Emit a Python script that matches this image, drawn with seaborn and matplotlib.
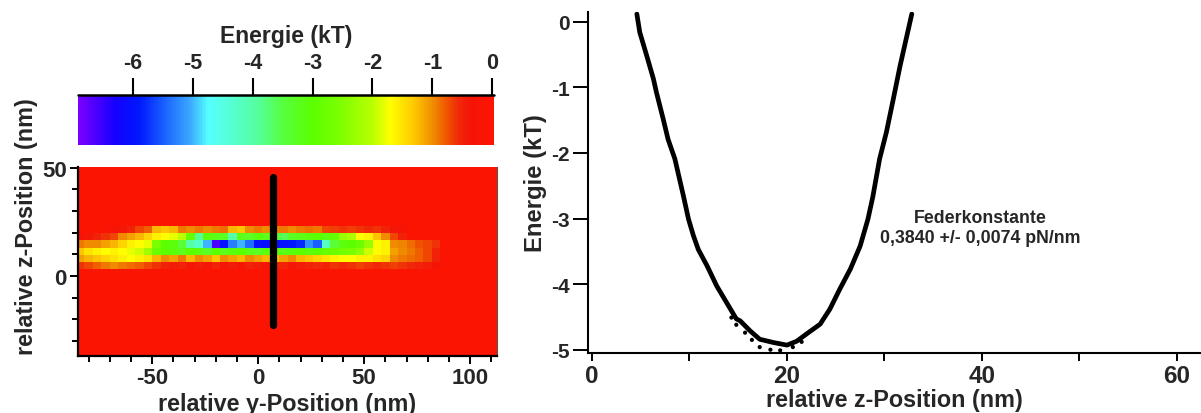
import numpy as np
import matplotlib
matplotlib.use("Agg")
import matplotlib.pyplot as plt
from matplotlib.colors import LinearSegmentedColormap, Normalize
import seaborn as sns
import pandas as pd

# ---------------- data ----------------
# colour scale (energy in kT)
cbar_ticks = [-6, -5, -4, -3, -2, -1, 0]
cmap_levels = [-6.92, -6.3, -5.9, -5.4, -5.05, -4.75, -4.3, -3.9, -3.5, -3.0,
               -2.5, -2.0, -1.7, -1.3, -1.0, -0.75, -0.55, -0.35, 0.03]
cmap_colors = ['#7a00ff', '#1400ff', '#0018ff', '#2070ff', '#3ca8ff', '#55ffff',
               '#55ffcc', '#55ff99', '#58ff40', '#5cff00', '#80ff00', '#b8ff00',
               '#ffff00', '#ffc800', '#f09000', '#f05500', '#f02808', '#f51408',
               '#ff1400']
bg_energy = -0.1

# energy map: bin centres (nm)
y_centers = [-84, -80, -76, -72, -68, -64, -60, -56, -52, -48, -44, -40, -36, -32,
             -28, -24, -20, -16, -12, -8, -4, 0, 4, 8, 12, 16, 20, 24, 28, 32,
             36, 40, 44, 48, 52, 56, 60, 64, 68, 72, 76, 80, 84]
z_centers = [4.9, 8.2, 11.5, 14.8, 18.1, 21.4]
row_z49 = [-0.6, -0.7, -0.8, -0.9, -1.0, -0.9, -0.85, -0.8, -0.7, -0.6,
           -0.5, -0.45, -0.5, -0.4, -0.45, -0.4, -0.5, -0.4, -0.45, -0.4,
           -0.5, -0.45, -0.4, -0.45, -0.5, -0.4, -0.45, -0.5, -0.55, -0.5,
           -0.6, -0.55, -0.6, -0.65, -0.6, -0.55, -0.6, -0.65, -0.6, -0.55,
           -0.5, -0.45, -0.35]
row_z82 = [-1.1, -1.2, -1.3, -1.4, -1.5, -1.6, -1.7, -1.6, -1.5, -1.2,
           -1.0, -1.1, -0.9, -1.2, -1.0, -1.1, -1.3, -1.0, -1.1, -1.2,
           -1.0, -1.1, -1.2, -1.3, -1.1, -1.0, -1.2, -1.3, -1.4, -1.5,
           -1.6, -1.7, -1.7, -1.6, -1.6, -1.5, -1.4, -1.0, -0.9, -0.85,
           -0.8, -0.7, -0.5]
row_z115 = [-1.3, -1.5, -1.6, -1.7, -1.6, -1.7, -1.8, -1.9, -2.2, -2.8,
            -3.0, -3.1, -3.2, -3.0, -3.1, -3.3, -3.0, -3.2, -3.1, -3.0,
            -3.2, -3.3, -3.1, -3.0, -3.2, -3.1, -3.0, -3.1, -3.0, -2.9,
            -2.8, -2.7, -2.6, -2.4, -1.9, -1.7, -1.6, -1.1, -1.0, -0.9,
            -0.8, -0.7, -0.5]
row_z148 = [-0.9, -1.0, -1.0, -1.1, -1.2, -1.4, -1.6, -1.7, -1.8, -2.6,
            -3.0, -3.1, -3.4, -4.0, -4.3, -5.0, -6.6, -6.0, -5.3, -5.0,
            -5.4, -6.0, -6.1, -6.0, -6.0, -5.9, -5.8, -5.2, -5.5, -4.2,
            -3.4, -3.1, -3.0, -2.8, -2.3, -1.7, -1.6, -1.0, -0.95, -0.85,
            -0.75, -0.7, -0.6]
row_z181 = [-0.3, -0.4, -0.5, -0.6, -0.7, -1.0, -1.1, -1.2, -1.4, -1.6,
            -1.7, -1.8, -2.0, -2.9, -3.9, -3.1, -3.2, -3.3, -4.0, -3.2,
            -3.3, -3.1, -3.2, -3.4, -3.6, -3.3, -3.2, -3.1, -3.0, -3.1,
            -2.9, -2.3, -2.1, -1.7, -1.6, -1.3, -1.0, -0.7, -0.5, -0.1,
            -0.1, -0.1, -0.1]
row_z214 = [-0.1, -0.1, -0.1, -0.2, -0.3, -0.4, -0.5, -0.7, -0.8, -1.2,
            -1.3, -1.2, -0.9, -1.0, -0.9, -1.0, -0.9, -0.85, -1.2, -1.3,
            -1.0, -0.9, -1.0, -0.95, -0.9, -1.0, -0.9, -0.85, -0.9, -0.7,
            -0.65, -0.6, -0.65, -0.6, -0.55, -0.6, -0.5, -0.4, -0.3, -0.1,
            -0.1, -0.1, -0.1]

# cut line through the map
cut_y = [7, 7]
cut_z = [-22.5, 45.8]

# energy profile along the cut
fit_z = [4.6, 4.9, 5.6, 6.3, 6.6, 7.3, 7.8, 8.5, 9.4, 9.9, 10.4, 10.9, 11.8, 12.8,
         13.8, 14.8, 15.2, 16.2, 17.2, 18.6, 20.0, 21.0, 22.0, 23.4, 24.4, 25.4,
         26.5, 27.5, 28.3, 28.8, 29.5, 30.2, 30.9, 31.6, 32.3, 32.8]
fit_E = [0.12, -0.16, -0.51, -0.87, -1.07, -1.48, -1.79, -2.09, -2.67, -3.01,
         -3.26, -3.47, -3.72, -4.03, -4.28, -4.53, -4.56, -4.71, -4.84, -4.89,
         -4.93, -4.87, -4.76, -4.61, -4.38, -4.08, -3.77, -3.42, -3.01, -2.67,
         -2.09, -1.68, -1.18, -0.67, -0.21, 0.12]
dot_z = [14.3, 14.8, 15.7, 16.4, 17.2, 18.3, 19.3, 20.6, 21.5]
dot_E = [-4.51, -4.62, -4.74, -4.85, -4.96, -5.0, -5.01, -4.96, -4.88]

annotation = "Federkonstante\n0,3840 +/- 0,0074 pN/nm"

# ---------------- style ----------------
sns.set_style("ticks")
plt.rcParams['font.family'] = ['Liberation Sans', 'DejaVu Sans']
plt.rcParams['font.weight'] = 'bold'
plt.rcParams['axes.labelweight'] = 'bold'
plt.rcParams['axes.unicode_minus'] = False

vmin, vmax = cmap_levels[0], cmap_levels[-1]
pos = [(v - vmin) / (vmax - vmin) for v in cmap_levels]
cmap = LinearSegmentedColormap.from_list("energie", list(zip(pos, cmap_colors)))
norm = Normalize(vmin=vmin, vmax=vmax)

fig = plt.figure(figsize=(12.01, 4.14), dpi=100)
W, H = 1201, 414

def px_axes(x0, y0, x1, y1):
    return fig.add_axes([x0 / W, 1 - y1 / H, (x1 - x0) / W, (y1 - y0) / H])

# ---------------- energy map ----------------
ax1 = px_axes(78, 168, 497, 357)
ax1.set_facecolor(cmap(norm(bg_energy)))
yc = np.array(y_centers, float)
zc = np.array(z_centers, float)
dy = yc[1] - yc[0]
dz = zc[1] - zc[0]
y_edges = np.append(yc - dy / 2, yc[-1] + dy / 2)
z_edges = np.append(zc - dz / 2, zc[-1] + dz / 2)
M = np.array([row_z49, row_z82, row_z115, row_z148, row_z181, row_z214])
mesh = ax1.pcolormesh(y_edges, z_edges, M, cmap=cmap, norm=norm, shading='flat')
ax1.plot(cut_y, cut_z, color='black', lw=5.2, solid_capstyle='round')
ax1.set_xlim(-85, 112.7)
ax1.set_ylim(-37, 50.4)
ax1.set_xticks([-50, 0, 50, 100])
ax1.set_xticks(np.arange(-80, 111, 10), minor=True)
ax1.set_yticks([0, 50])
ax1.set_yticks(np.arange(-30, 51, 10), minor=True)
ax1.tick_params(axis='x', which='major', length=6, width=1.4, labelsize=16, pad=2, color='black')
ax1.tick_params(axis='y', which='major', length=6, width=1.4, labelsize=16, pad=2, color='black')
ax1.tick_params(axis='both', which='minor', length=4.5, width=1.4, color='black')
for s in ['left', 'bottom']:
    ax1.spines[s].set_color('black')
    ax1.spines[s].set_linewidth(1.6)
ax1.spines['top'].set_visible(False)
ax1.spines['right'].set_color('#555555')
ax1.spines['right'].set_linewidth(0.8)
ax1.set_xlabel("relative y-Position (nm)", fontsize=16.8)
ax1.xaxis.set_label_coords(0.5, -0.19)
ax1.set_ylabel("relative z-Position (nm)", fontsize=16.8)
ax1.yaxis.set_label_coords(-0.095, 0.69)

# ---------------- colour bar ----------------
cax = px_axes(78, 96, 494, 146)
cb = fig.colorbar(mesh, cax=cax, orientation='horizontal')
cb.outline.set_visible(False)
cax.xaxis.set_ticks_position('top')
cax.xaxis.set_label_position('top')
cb.set_ticks(cbar_ticks)
cb.set_ticklabels([str(t) for t in cbar_ticks])
cax.tick_params(axis='x', length=12, width=1.5, labelsize=15.5, pad=4, color='black')
cax.axhline(1.0, color='black', lw=1.8, clip_on=False)
cax.set_xlabel("Energie (kT)", fontsize=16.6, labelpad=7)

# ---------------- energy profile ----------------
ax2 = px_axes(588, 13, 1200, 354)
df_fit = pd.DataFrame({"z": fit_z, "E": fit_E})
df_dot = pd.DataFrame({"z": dot_z, "E": dot_E})
sns.lineplot(data=df_fit, x="z", y="E", ax=ax2, color='black', lw=3.4, sort=False)
sns.scatterplot(data=df_dot, x="z", y="E", ax=ax2, color='black', s=9, edgecolor='none')
ax2.set_xlim(-0.41, 62.36)
ax2.set_ylim(-5.05, 0.15)
ax2.set_xticks([0, 20, 40, 60])
ax2.set_xticks([10, 30, 50], minor=True)
ax2.set_yticks([0, -1, -2, -3, -4, -5])
ax2.set_yticklabels(['0', '-1', '-2', '-3', '-4', '-5'])
ax2.tick_params(axis='y', which='major', length=11, width=1.4, labelsize=15, pad=2, color='black')
ax2.tick_params(axis='x', which='major', length=6, width=1.4, labelsize=17.5, pad=2, color='black')
ax2.tick_params(axis='x', which='minor', length=6, width=1.4, color='black')
for s in ['left', 'bottom']:
    ax2.spines[s].set_color('black')
    ax2.spines[s].set_linewidth(1.5)
ax2.spines['top'].set_visible(False)
ax2.spines['right'].set_visible(False)
ax2.set_xlabel("relative z-Position (nm)", fontsize=16.8, labelpad=1)
ax2.set_ylabel("Energie (kT)", fontsize=17.2, labelpad=3)
ax2.text(39.8, -3.14, annotation, ha='center', va='center', fontsize=12.8,
         fontweight='bold', linespacing=1.25)

fig.savefig("out.png", dpi=100)
